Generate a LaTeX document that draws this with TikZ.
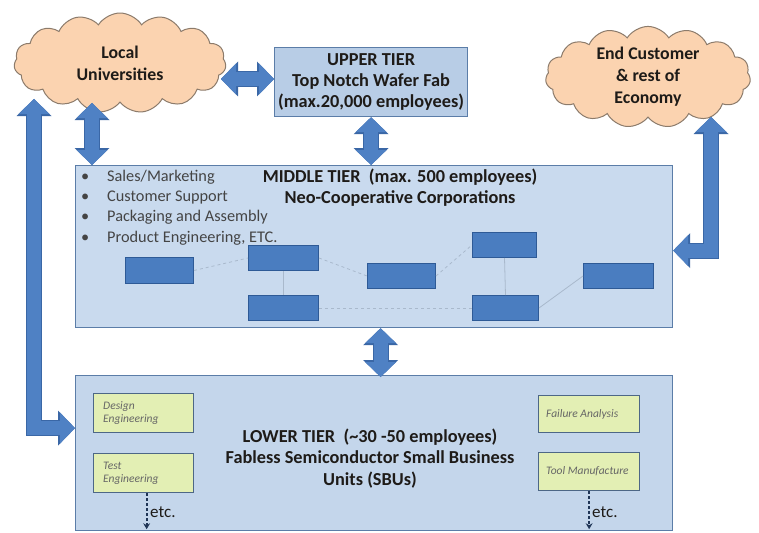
\documentclass[tikz,border=0pt]{standalone}
\usepackage{fontspec}
\setmainfont{Carlito}
\usetikzlibrary{shapes.symbols,arrows.meta}
\definecolor{arrowblue}{HTML}{4F81C4}
\definecolor{arrowdark}{HTML}{3A67A6}
\definecolor{cloudfill}{HTML}{FBD3B0}
\definecolor{clouddraw}{HTML}{8C7B6B}
\definecolor{upperfill}{HTML}{B8CDE6}
\definecolor{midfill}{HTML}{C9DAEE}
\definecolor{lowfill}{HTML}{C4D6EB}
\definecolor{boxdraw}{HTML}{5B7DA8}
\definecolor{minifill}{HTML}{4A7DC0}
\definecolor{minidraw}{HTML}{2E5A96}
\definecolor{greenfill}{HTML}{E3EFB4}
\definecolor{greendraw}{HTML}{4D6786}
\definecolor{txt}{HTML}{1E1B18}
\definecolor{bullettxt}{HTML}{444444}
\definecolor{faint}{HTML}{A9B9CC}
\definecolor{etcline}{HTML}{1F3556}
\begin{document}
\begin{tikzpicture}[x=1pt,y=-1pt,
  cloudnode/.style={cloud, cloud puffs=15, cloud puff arc=115, aspect=2, draw=clouddraw, fill=cloudfill, line width=1pt, inner sep=0pt, font=\fontsize{17.8}{22}\selectfont\bfseries, text=txt, align=center},
  tierbox/.style={draw=boxdraw, line width=1.2pt, anchor=north west, inner sep=0pt},
  title/.style={font=\fontsize{18.3}{21}\selectfont\bfseries, text=txt, align=center, inner sep=0pt},
  minibox/.style={draw=minidraw, fill=minifill, line width=1pt, anchor=north west, minimum height=25pt, inner sep=0pt},
  greenbox/.style={draw=greendraw, fill=greenfill, line width=1.3pt, anchor=north west, minimum width=100pt, minimum height=38pt, inner sep=0pt},
  greentext/.style={font=\fontsize{11.5}{13.5}\selectfont\itshape, text=black!60, align=left, anchor=west, inner sep=0pt},
  faintline/.style={draw=faint, line width=0.8pt},
  blockarrow/.style={draw=arrowblue, line width=14pt, line join=miter,
    arrows={Triangle[width=31pt,length=15pt,line width=0pt]-Triangle[width=31pt,length=15pt,line width=0pt]},
    preaction={draw=arrowdark, line width=16pt, line join=miter,
    arrows={Triangle[width=35pt,length=17pt,line width=0pt]-Triangle[width=35pt,length=17pt,line width=0pt]}}},
  etcarrow/.style={draw=etcline, line width=2pt, dash pattern=on 3pt off 2pt, -{Stealth[length=6pt,width=7pt,line width=0pt]}},
  etctext/.style={font=\fontsize{17}{17}\selectfont, text=txt, anchor=west, inner sep=0pt}
]
\useasboundingbox (0,0) rectangle (759,532);
\fill[white] (0,0) rectangle (759,532);

% clouds
\node[cloudnode, minimum width=212pt, minimum height=100pt] (lu) at (120,63) {Local\\Universities};
\node[cloudnode, minimum width=205pt, minimum height=96pt] (ec) at (648,77) {End Customer\\\& rest of\\Economy};

% tier boxes
\node[tierbox, fill=upperfill, minimum width=193pt, minimum height=69pt] (upper) at (274,47) {};
\node[title] (uppertxt) at (upper.center) {UPPER TIER\\Top Notch Wafer Fab\\(max.20,000 employees)};

\node[tierbox, fill=midfill, minimum width=597pt, minimum height=162pt] (mid) at (75,165) {};
\node[title] (midtxt) at (400,187.5) {MIDDLE TIER\ \ (max. 500 employees)\\Neo-Cooperative Corporations};
\node[font=\fontsize{16.3}{20.3}\selectfont, text=bullettxt, align=left, anchor=west, inner sep=0pt] (bullets) at (81,207.5)
  {\makebox[26pt][l]{\textbullet}Sales/Marketing\\
   \makebox[26pt][l]{\textbullet}Customer Support\\
   \makebox[26pt][l]{\textbullet}Packaging and Assembly\\
   \makebox[26pt][l]{\textbullet}Product Engineering, ETC.};

% mini boxes
\node[minibox, minimum width=68pt, minimum height=26pt] (m1) at (125,257) {};
\node[minibox, minimum width=70pt] (m2) at (248,245) {};
\node[minibox, minimum width=70pt] (m3) at (248,295) {};
\node[minibox, minimum width=68pt] (m4) at (367,263) {};
\node[minibox, minimum width=64pt] (m5) at (472,232) {};
\node[minibox, minimum width=66pt] (m6) at (472,295) {};
\node[minibox, minimum width=70pt] (m7) at (583,263) {};
\draw[faintline] (m2.south) -- (m3.north);
\draw[faintline] (m5.south) -- (m6.north);
\draw[faintline, dashed] (m1.east) -- (m2.west);
\draw[faintline, dashed] (m2.east) -- (m4.west);
\draw[faintline, dashed] (m3.east) -- (m6.west);
\draw[faintline, dashed] (m4.east) -- (m5.west);
\draw[faintline] (m6.east) -- (m7.west);

% lower tier
\node[tierbox, fill=lowfill, minimum width=597pt, minimum height=155pt] (low) at (75,375) {};
\node[title, font=\fontsize{18.3}{21.5}\selectfont\bfseries] (lowtxt) at (370,458.5) {LOWER TIER\ \ (\textasciitilde30 -50 employees)\\Fabless Semiconductor Small Business\\Units (SBUs)};

\node[greenbox, minimum height=39pt] (ga) at (93,393) {};
\node[greenbox, minimum height=39pt] (gb) at (93,453) {};
\node[greenbox, minimum width=101pt, minimum height=37pt] (gc) at (538,395) {};
\node[greenbox, minimum width=101pt, minimum height=38pt] (gd) at (538,452) {};
\node[greentext] (gatxt) at ([xshift=10pt]ga.west) {Design\\Engineering};
\node[greentext] (gbtxt) at ([xshift=10pt]gb.west) {Test\\Engineering};
\node[greentext] (gctxt) at ([xshift=8pt]gc.west) {Failure Analysis};
\node[greentext] (gdtxt) at ([xshift=8pt]gd.west) {Tool Manufacture};

\draw[etcarrow] ([xshift=3pt]gb.south) -- ([xshift=3pt,yshift=2pt]gb.south |- low.south);
\draw[etcarrow] (gd.south) -- ([yshift=2pt]gd.south |- low.south);
\node[etctext] (etc1) at (150,512) {etc.};
\node[etctext] (etc2) at (592,512) {etc.};

% block arrows
\coordinate (luR) at (221,79);
\coordinate (luB) at (92,103);
\coordinate (ecB) at (711,117);
\coordinate (luL) at (34,99);
\draw[blockarrow] (luR) -- (luR -| upper.west);
\draw[blockarrow] (luB) -- (luB |- mid.north);
\draw[blockarrow] (upper.south) -- (upper.south |- mid.north);
\draw[blockarrow] ([xshift=6.5pt]mid.south) -- ([xshift=6.5pt,yshift=-2pt]mid.south |- low.north);
\draw[blockarrow] (ecB) |- ([yshift=-4pt]mid.east);
\draw[blockarrow] (luL) |- ([yshift=25pt]low.west);
\end{tikzpicture}
\end{document}
